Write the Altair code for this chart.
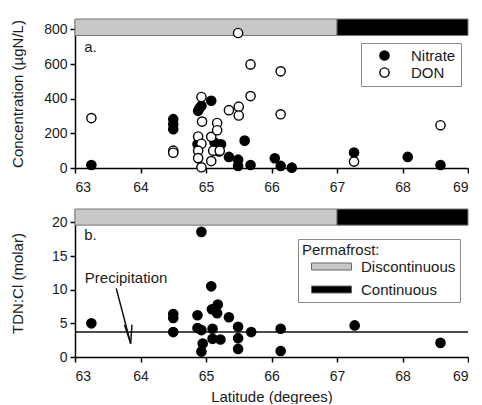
import altair as alt
import pandas as pd

# ---------------- data ----------------
nitrate_lat = [63.25, 64.50, 64.50, 64.50, 65.08, 64.93, 64.88, 64.90, 64.87, 65.13,
               65.23, 65.20, 65.59, 65.35, 65.49, 65.49, 65.68, 66.05, 66.14, 66.31,
               67.26, 68.08, 68.58]
nitrate_conc = [17, 282, 253, 224, 388, 359, 330, 345, 137, 147,
                137, 95, 158, 64, 48, 12, 17, 56, 12, 2,
                89, 64, 17]

don_lat = [63.25, 64.50, 64.50, 64.93, 64.94, 64.88, 64.93, 64.88, 64.88, 64.93,
           65.08, 65.11, 65.08, 65.17, 65.17, 65.21, 65.35, 65.50, 65.50, 65.49,
           65.68, 65.68, 66.14, 66.14, 67.26, 68.58]
don_conc = [288, 100, 88, 410, 268, 182, 140, 100, 57, 4,
            180, 100, 40, 260, 218, 100, 334, 354, 303, 779,
            598, 415, 558, 310, 37, 247]

tdn_lat = [63.25, 64.50, 64.50, 64.50, 64.93, 65.08, 64.87, 64.87, 64.93, 64.95,
           64.93, 65.09, 65.18, 65.17, 65.10, 65.10, 65.22, 65.35, 65.49, 65.49,
           65.49, 65.69, 66.14, 66.14, 67.27, 68.58]
tdn_ratio = [5.0, 6.4, 5.8, 3.7, 18.6, 10.5, 6.2, 4.3, 4.0, 2.0,
             0.8, 7.1, 7.8, 6.5, 4.2, 2.7, 2.6, 5.9, 4.5, 2.8,
             1.2, 3.7, 4.2, 0.9, 4.7, 2.1]

zone_names = ["Discontinuous", "Continuous"]
zone_start = [63, 67]
zone_end = [67, 69]
zone_colors = ["#c8c8c8", "#000000"]
bar_a = [765, 860]
bar_b = [19.6, 22]

precip_ratio = 3.7
arrow_seg = ["shaft", "shaft", "barb1", "barb1", "barb2", "barb2"]
arrow_lat = [63.63, 63.85, 63.755, 63.85, 63.87, 63.85]
arrow_val = [10.2, 2.0, 4.8, 2.0, 4.8, 2.0]

x_ticks = [63, 64, 65, 66, 67, 68, 69]
ya_ticks = [0, 200, 400, 600, 800]
yb_ticks = [0, 5, 10, 15, 20]

FONT = "Liberation Sans"
TXT = "#1a1a1a"
W, HA, HB = 393, 149, 148

# ---------------- tables ----------------
conc_df = pd.DataFrame({
    "lat": nitrate_lat + don_lat,
    "value": nitrate_conc + don_conc,
    "series": ["Nitrate"] * len(nitrate_lat) + ["DON"] * len(don_lat),
})
tdn_df = pd.DataFrame({"lat": tdn_lat, "value": tdn_ratio})
zone_a = pd.DataFrame({"zone": zone_names, "x0": zone_start, "x1": zone_end,
                       "y0": [bar_a[0]] * 2, "y1": [bar_a[1]] * 2, "color": zone_colors})
zone_b = pd.DataFrame({"zone": zone_names, "x0": zone_start, "x1": zone_end,
                       "y0": [bar_b[0]] * 2, "y1": [bar_b[1]] * 2})
arrow_df = pd.DataFrame({"seg": arrow_seg, "lat": arrow_lat, "value": arrow_val,
                         "ord": list(range(len(arrow_seg)))})

xscale = alt.Scale(domain=[63, 69], nice=False, zero=False)
ya_scale = alt.Scale(domain=[0, 860], nice=False)
yb_scale = alt.Scale(domain=[0, 22], nice=False)

# ---------------- panel a ----------------
xa = alt.X("lat:Q", scale=xscale,
           axis=alt.Axis(values=x_ticks, format="d", title=None))
ya = alt.Y("value:Q", scale=ya_scale,
           axis=alt.Axis(values=ya_ticks, title="Concentration (µgN/L)", titleX=-50))

bars_a = alt.Chart(zone_a).mark_rect(stroke="#777", strokeWidth=1).encode(
    x=alt.X("x0:Q", scale=xscale, axis=alt.Axis(values=x_ticks, format="d", title=None)),
    x2="x1:Q",
    y=alt.Y("y0:Q", scale=ya_scale,
            axis=alt.Axis(values=ya_ticks, title="Concentration (µgN/L)", titleX=-50)),
    y2="y1:Q",
    color=alt.Color("color:N", scale=None),
)

pts_a = alt.Chart(conc_df).mark_point(shape="circle", filled=True, size=85,
                                      strokeWidth=1.4, opacity=1).encode(
    x=xa, y=ya,
    fill=alt.Fill("series:N",
                  scale=alt.Scale(domain=["Nitrate", "DON"], range=["#000000", "#ffffff"]),
                  legend=alt.Legend(title=None, orient="none", legendX=286, legendY=24,
                                    strokeColor="#8a8a8a", fillColor="white", padding=5,
                                    symbolType="circle", symbolSize=85,
                                    symbolStrokeColor="#000000", symbolStrokeWidth=1.4,
                                    symbolOffset=11, labelOffset=19, rowPadding=1,
                                    labelFontSize=15, labelFont=FONT, labelColor=TXT)),
    stroke=alt.value("#000000"),
)

lab_a = alt.Chart(pd.DataFrame({"lat": [63.14], "value": [700], "t": ["a."]})).mark_text(
    align="left", baseline="middle", font=FONT, fontSize=15, color=TXT
).encode(x=xa, y=ya, text="t:N")

panel_a = alt.layer(bars_a, pts_a, lab_a).properties(width=W, height=HA)

# ---------------- panel b ----------------
xb = alt.X("lat:Q", scale=xscale,
           axis=alt.Axis(values=x_ticks, format="d", title="Latitude (degrees)"))
yb = alt.Y("value:Q", scale=yb_scale,
           axis=alt.Axis(values=yb_ticks, title="TDN:Cl (molar)", titleX=-50))

bars_b = alt.Chart(zone_b).mark_rect(stroke="#777", strokeWidth=1).encode(
    x=alt.X("x0:Q", scale=xscale,
            axis=alt.Axis(values=x_ticks, format="d", title="Latitude (degrees)")),
    x2="x1:Q",
    y=alt.Y("y0:Q", scale=yb_scale,
            axis=alt.Axis(values=yb_ticks, title="TDN:Cl (molar)", titleX=-50)),
    y2="y1:Q",
    color=alt.Color("zone:N",
                    scale=alt.Scale(domain=zone_names, range=zone_colors),
                    legend=alt.Legend(title="Permafrost:", orient="none",
                                      legendX=223, legendY=30,
                                      strokeColor="#8a8a8a", fillColor="white", padding=4,
                                      symbolType="M-4,-0.7H4V0.7H-4Z", symbolSize=100,
                                      symbolStrokeColor="#666", symbolStrokeWidth=1,
                                      symbolOffset=22, labelOffset=22, rowPadding=7,
                                      titlePadding=1, titleFontWeight="normal",
                                      titleFontSize=15, titleFont=FONT, titleColor=TXT,
                                      labelFontSize=15, labelFont=FONT, labelColor=TXT)),
)

precip = alt.Chart(pd.DataFrame({"value": [precip_ratio]})).mark_rule(
    color="#111", strokeWidth=1.5).encode(y=yb)

pts_b = alt.Chart(tdn_df).mark_point(shape="circle", filled=True, size=85,
                                     strokeWidth=1.4, opacity=1,
                                     fill="#000000", stroke="#000000").encode(x=xb, y=yb)

arrow = alt.Chart(arrow_df).mark_line(color="#111", strokeWidth=1.5).encode(
    x=xb, y=yb, detail="seg:N", order="ord:Q")

txt_b = alt.Chart(pd.DataFrame({"lat": [63.14, 63.15], "value": [18.2, 11.7],
                                "t": ["b.", "Precipitation"]})).mark_text(
    align="left", baseline="middle", font=FONT, fontSize=15, color=TXT
).encode(x=xb, y=yb, text="t:N")

panel_b = alt.layer(bars_b, precip, arrow, pts_b, txt_b).properties(width=W, height=HB)

chart = alt.vconcat(panel_a, panel_b, spacing=41, bounds="flush").resolve_scale(
    color="independent", fill="independent"
).resolve_legend(color="independent", fill="independent").properties(
    padding={"left": 2, "top": 10, "right": 0, "bottom": 0}
).configure_view(stroke=None).configure_axis(
    grid=False, domainColor="#000000", domainWidth=1.5, tickColor="#000000",
    tickWidth=1.5, tickSize=5, labelFont=FONT, labelFontSize=14, labelColor=TXT,
    labelPadding=3, titleFont=FONT, titleFontSize=15, titleFontWeight="normal",
    titleColor=TXT
).configure_axisX(labelPadding=7, titlePadding=6)

chart.save("out.html", embed_options={"renderer": "svg", "actions": False})
